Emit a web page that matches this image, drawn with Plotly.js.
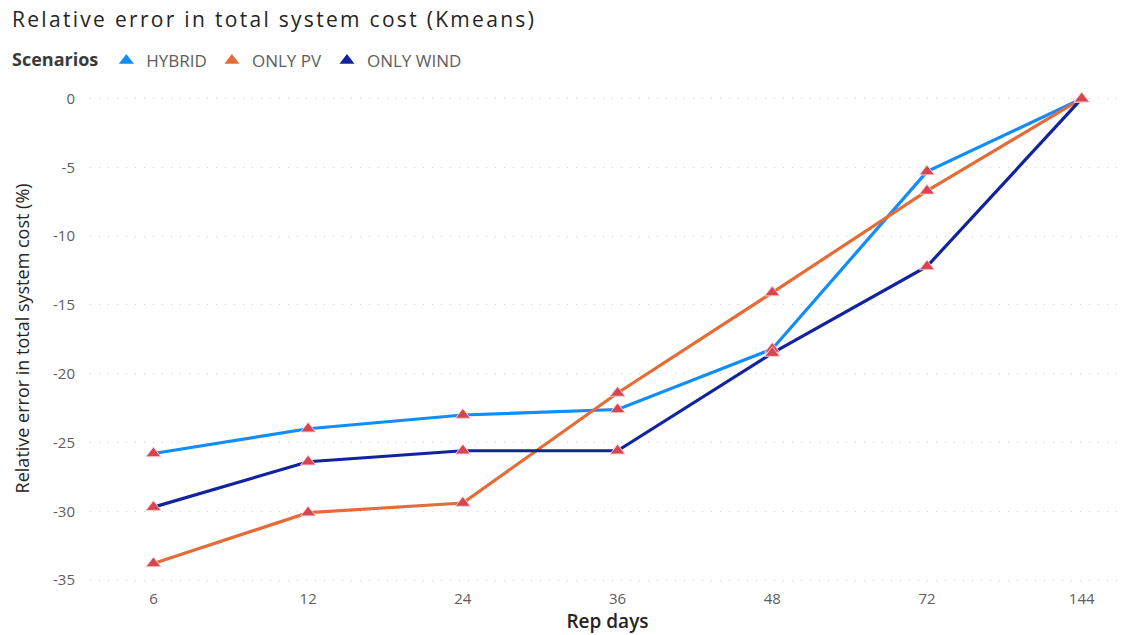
<!DOCTYPE html>
<html>
<head>
<meta charset="utf-8">
<script src="https://cdn.plot.ly/plotly-3.0.1.min.js"></script>
<style>
  html, body { margin: 0; padding: 0; background: #ffffff; }
  #chart { width: 1134px; height: 635px; }
  #chart .gtitle { letter-spacing: 2.3px; }
</style>
</head>
<body>
<div id="chart"></div>
<script>
// Representative days used for clustering (categorical axis)
const repDays = ['6', '12', '24', '36', '48', '72', '144'];

// Relative error in total system cost (%) per scenario
const hybrid    = [-25.8, -24.0, -23.0, -22.6, -18.2, -5.3, 0];
const onlyPV    = [-33.8, -30.1, -29.4, -21.4, -14.1, -6.7, 0];
const onlyWind  = [-29.7, -26.4, -25.6, -25.6, -18.5, -12.2, 0];

// Y tick positions and labels (plain hyphen for negatives)
const yTickVals = [0, -5, -10, -15, -20, -25, -30, -35];
const yTickText = ['0', '-5', '-10', '-15', '-20', '-25', '-30', '-35'];

const scenarioNames  = ['HYBRID', 'ONLY PV', 'ONLY WIND'];
const scenarioValues = [hybrid, onlyPV, onlyWind];
const scenarioColors = ['#118DFF', '#E66C37', '#12239E'];
const markerColor = '#D64550';

const traces = [];

// Lines first so every marker sits on top of all lines
scenarioValues.forEach((vals, i) => {
  traces.push({
    type: 'scatter', mode: 'lines',
    x: repDays, y: vals,
    name: scenarioNames[i],
    line: { color: scenarioColors[i], width: 3.2 },
    showlegend: false,
    hoverinfo: 'skip'
  });
});

scenarioValues.forEach((vals, i) => {
  traces.push({
    type: 'scatter', mode: 'markers',
    x: repDays, y: vals,
    name: scenarioNames[i],
    marker: { symbol: 'triangle-up', size: 13, color: markerColor,
              line: { color: 'rgba(255,210,215,0.9)', width: 1 } },
    showlegend: false
  });
});

// Legend entries: coloured triangles per scenario
scenarioNames.forEach((name, i) => {
  traces.push({
    type: 'scatter', mode: 'markers',
    x: [null], y: [null],
    name: name,
    marker: { symbol: 'triangle-up', size: 13, color: scenarioColors[i] },
    showlegend: true
  });
});

const layout = {
  width: 1134, height: 635,
  margin: { l: 90, r: 9, t: 87, b: 47 },
  paper_bgcolor: '#ffffff', plot_bgcolor: '#ffffff',
  font: { family: 'Open Sans, Noto Sans, sans-serif', color: '#605E5C', size: 15 },
  title: {
    text: 'Relative error in total system cost (Kmeans)',
    x: 12 / 1134, xref: 'container', xanchor: 'left',
    y: 1 - 20 / 635, yref: 'container', yanchor: 'middle',
    font: { size: 21, color: '#252423', family: 'Open Sans, Noto Sans, sans-serif' }
  },
  showlegend: true,
  legend: {
    orientation: 'h',
    xref: 'container', yref: 'container',
    x: 10 / 1134, xanchor: 'left',
    y: 1 - 61 / 635, yanchor: 'middle',
    title: { text: '<b>Scenarios</b>', side: 'left', font: { size: 18, color: '#3A3A3A' } },
    font: { size: 17, color: '#605E5C' },
    itemwidth: 30,
    tracegroupgap: 0,
    bgcolor: 'rgba(0,0,0,0)'
  },
  xaxis: {
    type: 'category',
    range: [-0.41, 6.28],
    showgrid: false, zeroline: false, showline: false,
    ticks: '', tickfont: { size: 15, color: '#605E5C' },
    automargin: true,
    title: { text: 'Rep days', font: { size: 19, color: '#252423', weight: 600 }, standoff: 5 }
  },
  yaxis: {
    range: [-35.58, 0.72],
    tickvals: yTickVals, ticktext: yTickText,
    showgrid: true, gridcolor: '#CFCFCF', griddash: '1px,8px', gridwidth: 1,
    zeroline: false, showline: false, ticks: '',
    tickfont: { size: 15, color: '#605E5C' },
    ticklabelstandoff: 14,
    automargin: true,
    title: { text: 'Relative error in total system cost (%)', font: { size: 18, color: '#252423' }, standoff: 18 }
  },
  hovermode: 'closest'
};

Plotly.newPlot('chart', traces, layout, { displayModeBar: false, responsive: false });
</script>
</body>
</html>
